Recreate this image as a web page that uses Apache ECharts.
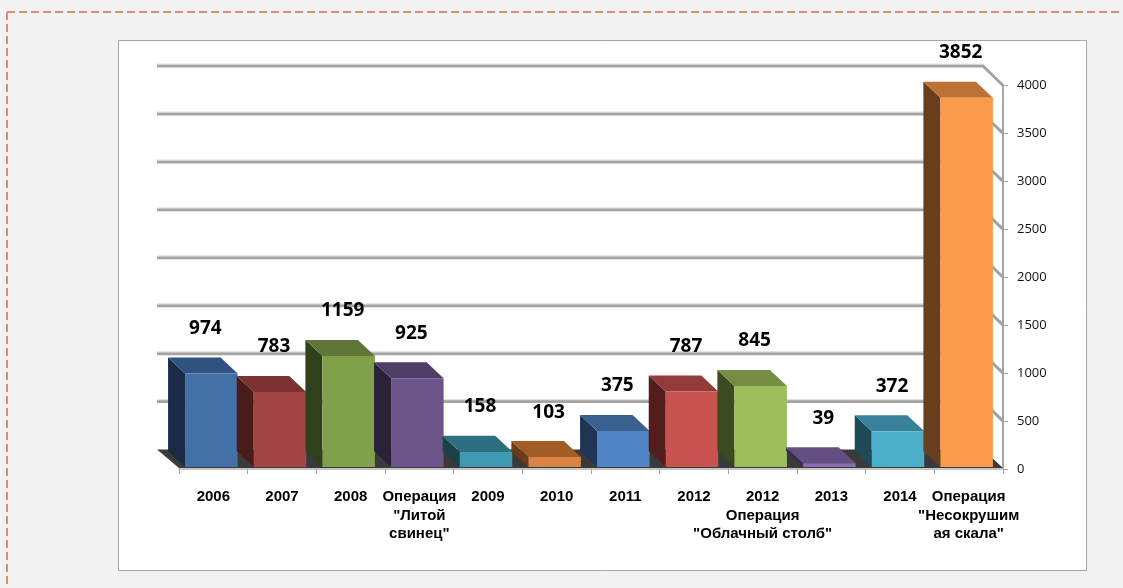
<!DOCTYPE html>
<html><head><meta charset="utf-8">
<script src="https://cdn.jsdelivr.net/npm/echarts@6/dist/echarts.min.js"></script>
<style>html,body{margin:0;padding:0;background:#f2f2f2;}#c{width:1123px;height:588px;}</style>
</head><body><div id="c"></div>
<script>
const categories = ['2006','2007','2008','Операция\n"Литой\nсвинец"','2009','2010','2011','2012','2012\nОперация\n"Облачный столб"','2013','2014','Операция\n"Несокрушим\nая скала"'];
const values = [974,783,1159,925,158,103,375,787,845,39,372,3852];
const yTicks = [0,500,1000,1500,2000,2500,3000,3500,4000];

const frontColors = ['#4470a8','#a34542','#80a04a','#6d5589','#3e9ab0','#d98443','#5084c4','#c7524f','#9dbe5a','#8a6bae','#4bafc9','#fa9a4a'];
const topColors   = ['#2f5280','#7a3330','#5f7636','#4e3d66','#2d6e80','#a25d26','#3a6090','#933b39','#748c43','#654f82','#37829a','#bb7234'];
const sideColors  = ['#1b2b45','#481c1b','#30401b','#2a2238','#1b4049','#6b3c18','#1f3553','#521d1c','#3c4a22','#3a2d4c','#1e4a57','#683e1f'];

const chart = echarts.init(document.getElementById('c'), null, {renderer:'canvas'});

function renderWall(params, api){
  const v = api.value(1);
  const cs = params.coordSys;
  const y = api.coord([0, v])[1];
  const by = y - 19.5, lx = cs.x - 22, rx = cs.x + cs.width - 20, fx = cs.x + cs.width;
  if (v === 0) {
    return {type:'polygon', shape:{points:[[cs.x, y-1],[fx, y-1],[rx, by],[lx, by]]}, style:{fill:'#3a3a3a'}};
  }
  return {type:'group', children:[
    {type:'polyline', shape:{points:[[lx,by],[rx,by],[fx,y]]}, style:{stroke:'#a3a3a3', lineWidth:3, fill:null}},
    {type:'polyline', shape:{points:[[lx,by-1.8],[rx,by-1.8]]}, style:{stroke:'#d6d6d6', lineWidth:1, fill:null}}
  ]};
}

function renderBar(params, api){
  const i = api.value(0), v = api.value(1);
  const p0 = api.coord([i, 0]), p1 = api.coord([i, v]);
  const bw = api.size([1, 0])[0] * 0.765;
  const cx = p0[0] - 2, yb = p0[1] - 2, yt = Math.min(p1[1] - 2, yb - 1);
  const x0 = cx - bw/2, x1 = cx + bw/2, dx = -17, dy = -16;
  return {type:'group', children:[
    {type:'polygon', shape:{points:[[x0,yt],[x0+dx,yt+dy],[x0+dx,yb+dy],[x0,yb]]}, style:{fill:sideColors[i]}},
    {type:'polygon', shape:{points:[[x0,yt],[x1,yt],[x1+dx,yt+dy],[x0+dx,yt+dy]]}, style:{fill:topColors[i]}},
    {type:'rect', shape:{x:x0, y:yt, width:bw, height:yb-yt}, style:{fill:frontColors[i]}},
    {type:'text', style:{text:String(v), x:cx-6, y:yt-45, fill:'#000', font:'bold 19px "Open Sans"', align:'center', verticalAlign:'middle'}}
  ]};
}

const option = {
  backgroundColor:'#f2f2f2',
  animation:false,
  graphic:[
    {type:'rect', z:-10, shape:{x:118.5, y:40.5, width:968, height:530}, style:{fill:'#ffffff', stroke:'#a6a6a6', lineWidth:1}},
    {type:'polyline', z:-10, shape:{points:[[7,12],[1123,12]]}, style:{stroke:'#d4916c', lineWidth:2, lineDash:[8,4], fill:null}},
    {type:'polyline', z:-10, shape:{points:[[7,12],[7,588]]}, style:{stroke:'#d4916c', lineWidth:2, lineDash:[8,4], fill:null}}
  ],
  grid:{left:179, right:120, top:85.5, bottom:119, containLabel:false},
  xAxis:{
    type:'category', data:categories,
    axisLine:{show:true, lineStyle:{color:'#c4c4c4', width:2}},
    axisTick:{show:true, length:5, lineStyle:{color:'#a6a6a6'}},
    axisLabel:{interval:0, hideOverlap:false, color:'#000', fontFamily:'"Liberation Sans", Arial, sans-serif', fontWeight:'bold', fontSize:15, lineHeight:18.5, margin:19}
  },
  yAxis:{
    type:'value', position:'right', min:0, max:4000, interval:500,
    splitLine:{show:false},
    axisLine:{show:true, lineStyle:{color:'#a6a6a6', width:2}},
    axisTick:{show:true, length:5, lineStyle:{color:'#a6a6a6'}},
    axisLabel:{color:'#111', fontFamily:'"Open Sans", sans-serif', fontSize:13, margin:14, formatter:(v)=>String(v)}
  },
  series:[
    {type:'custom', clip:false, renderItem:renderWall, data:yTicks.map(v=>[0, v]), z:1, silent:true},
    {type:'custom', clip:false, renderItem:renderBar, data:values.map((v,i)=>[i, v]), z:3}
  ]
};
chart.setOption(option);
</script>
</body></html>
